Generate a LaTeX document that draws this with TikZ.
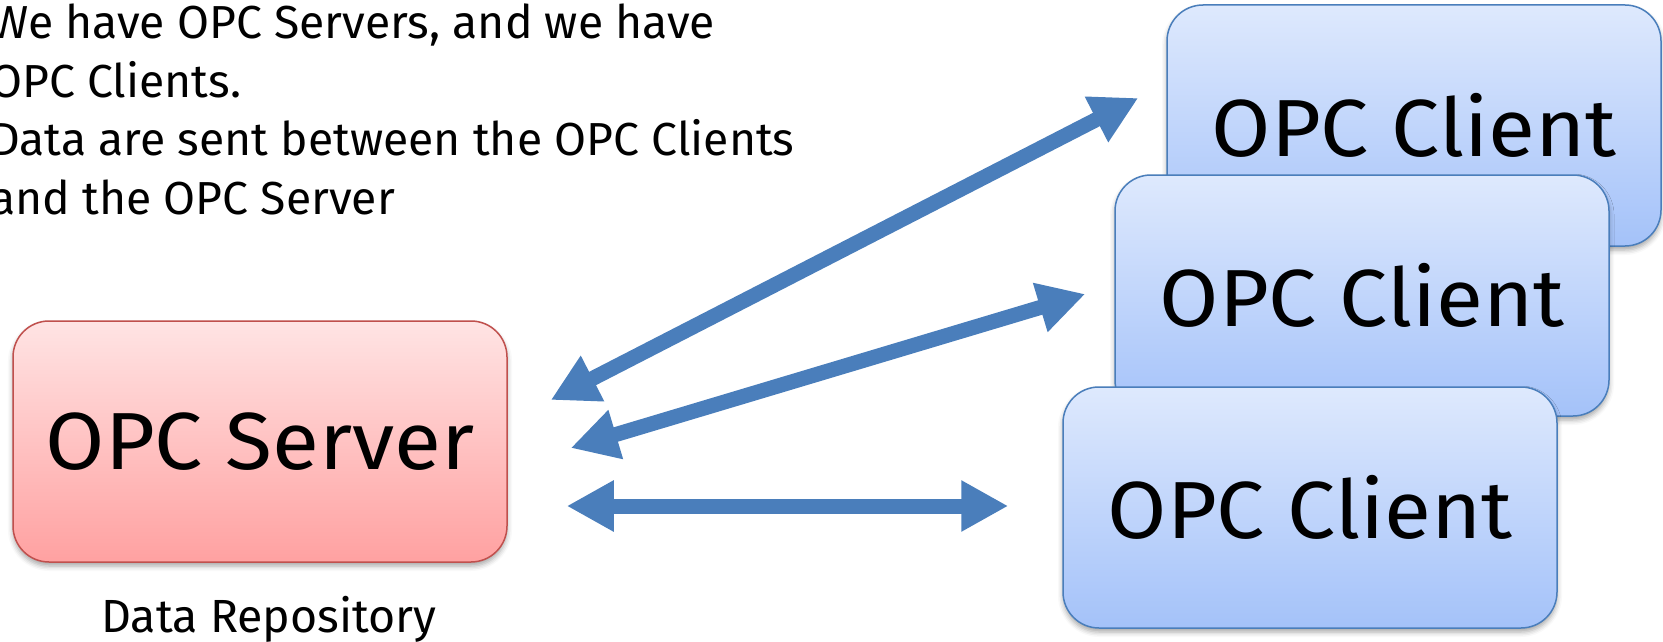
\documentclass[tikz,border=0pt]{standalone}
\usepackage{fontspec}
\setmainfont{Fira Sans}
\newfontfamily\boxfont[FakeStretch=1.06]{Fira Sans}
\usetikzlibrary{arrows.meta,calc,shadows.blur}

\definecolor{srvtop}{HTML}{FFE4E4}
\definecolor{srvbot}{HTML}{FFA1A1}
\definecolor{srvline}{HTML}{C0504D}
\definecolor{clitop}{HTML}{DEE9FD}
\definecolor{clibot}{HTML}{A4C2F9}
\definecolor{cliline}{HTML}{4A7EBB}
\definecolor{flow}{HTML}{4A7EBB}

\tikzset{
  box/.style={rectangle, rounded corners=36pt, minimum width=494pt,
    minimum height=241pt, inner sep=0pt, line width=1.5pt,
    font=\boxfont\fontsize{81}{92}\selectfont,
    blur shadow={shadow xshift=0pt, shadow yshift=-4pt,
      shadow blur radius=5pt, shadow opacity=35}},
  server/.style={box, draw=srvline, top color=srvtop, bottom color=srvbot},
  client/.style={box, draw=cliline, top color=clitop, bottom color=clibot},
  flowarrow/.style={draw=flow, line width=15pt,
    {Triangle[length=47pt,width=48pt]}-{Triangle[length=47pt,width=48pt]}},
  note/.style={anchor=base west, inner sep=0pt, font=\fontsize{46.3}{58}\selectfont},
  caption/.style={anchor=base, inner sep=0pt, font=\fontsize{46.5}{58}\selectfont}
}

\begin{document}
\begin{tikzpicture}[x=1pt,y=-1pt]
  \useasboundingbox (0,0) rectangle (1663,642);

  % explanatory text, top left
  \node[note] (t1) at (-10,39)    {We have OPC Servers, and we have};
  \node[note] (t2) at (-10,97.3)  {OPC Clients.};
  \node[note] (t3) at (-10,155.6) {Data are sent between the OPC Clients};
  \node[note] (t4) at (-10,214)   {and the OPC Server};

  % stacked clients, back to front
  \node[client] (c1) at (1414,125.5) {OPC Client};
  \node[client] (c2) at (1362,295.5) {OPC Client};
  \node[client] (c3) at (1310,507.5) {OPC Client};

  % server and its caption
  \node[server] (srv) at (260,441.5) {OPC Server};
  \node[caption] (repo) at ($(srv.south)+(9,70)$) {Data Repository};

  % arrow end points
  \coordinate (a1s) at ($(srv.east)+(43,-41.5)$);
  \coordinate (a1c) at ($(c1.west)+(-28,-27.5)$);
  \coordinate (a2s) at ($(srv.east)+(63,6.5)$);
  \coordinate (a2c) at ($(c2.west)+(-29,-1.5)$);
  \coordinate (a3s) at ($(srv.east)+(59,64.5)$);
  \coordinate (a3c) at ($(c3.west)+(-54,-1.5)$);

  % data exchange
  \draw[flowarrow] (a1s) -- (a1c);
  \draw[flowarrow] (a2s) -- (a2c);
  \draw[flowarrow] (a3s) -- (a3c);
\end{tikzpicture}
\end{document}
